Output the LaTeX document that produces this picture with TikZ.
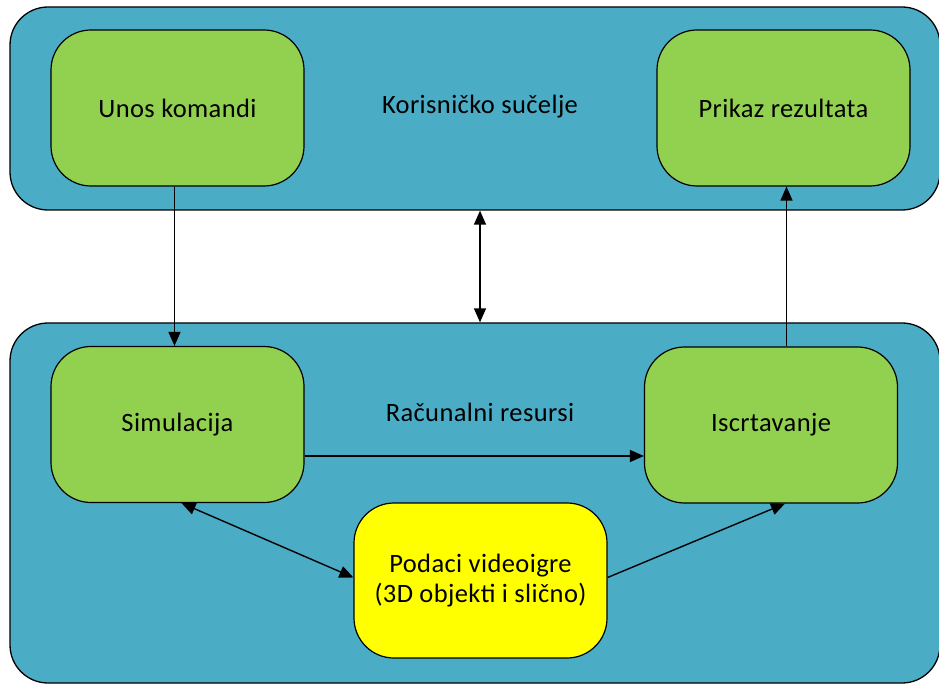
\documentclass[tikz,border=0pt]{standalone}
\usepackage{fontspec}
\setmainfont{Carlito}[LetterSpace=1.5]
\usetikzlibrary{arrows.meta}

\definecolor{panelblue}{HTML}{4BACC6}
\definecolor{boxgreen}{HTML}{92D050}
\definecolor{boxyellow}{HTML}{FFFF00}

\begin{document}
\begin{tikzpicture}[x=1pt,y=-1pt,
  panel/.style={draw=black,fill=panelblue,line width=1.3pt,rounded corners=38pt,
    minimum width=930pt,inner sep=0pt},
  box/.style={draw=black,fill=boxgreen,line width=1.2pt,rounded corners=40pt,
    minimum width=253pt,minimum height=156pt,align=center,inner sep=0pt},
  label/.style={font=\fontsize{26.5}{32}\selectfont},
  conn/.style={line width=1.4pt,-{Triangle[length=14pt,width=12pt]}},
  both/.style={line width=1.4pt,{Triangle[length=14pt,width=12pt]}-{Triangle[length=14pt,width=12pt]}},
  every node/.append style={label}]

  \useasboundingbox (0,0) rectangle (939,684);

  % panels
  \node[panel,minimum height=203pt] (top) at (475,108.5) {};
  \node[panel,minimum height=360pt] (bot) at (475,503) {};

  % panel titles
  \node (kor) at (480,107) {Korisničko sučelje};
  \node (rac) at (480,412) {Računalni resursi};

  % boxes
  \node[box] (unos) at (177.5,108) {Unos komandi};
  \node[box] (prikaz) at (783.5,108) {Prikaz rezultata};
  \node[box] (sim) at (177.5,424.5) {Simulacija};
  \node[box] (iscrt) at (771,425) {Iscrtavanje};
  \node[box,fill=boxyellow,minimum height=155pt] (podaci) at (480.5,580.5)
    {Podaci videoigre\\[-2pt](3D objekti i slično)};

  % connectors
  \draw[conn] ([xshift=-3pt]unos.south) -- ([xshift=-3pt]sim.north);
  \draw[conn] (iscrt.north -| prikaz.south) ++(3,0) coordinate (up)
    -- (up |- prikaz.south);
  \draw[both] (top.south -| kor) -- (bot.north -| kor);
  \draw[conn] ([yshift=-31.5pt]sim.east) -- ([yshift=-31.5pt]sim.east -| iscrt.west);
  \draw[both] ([xshift=4pt]sim.south) -- ([yshift=3pt]podaci.west);
  \draw[conn] ([yshift=3pt]podaci.east) -- ([xshift=14pt]iscrt.south);

\end{tikzpicture}
\end{document}
